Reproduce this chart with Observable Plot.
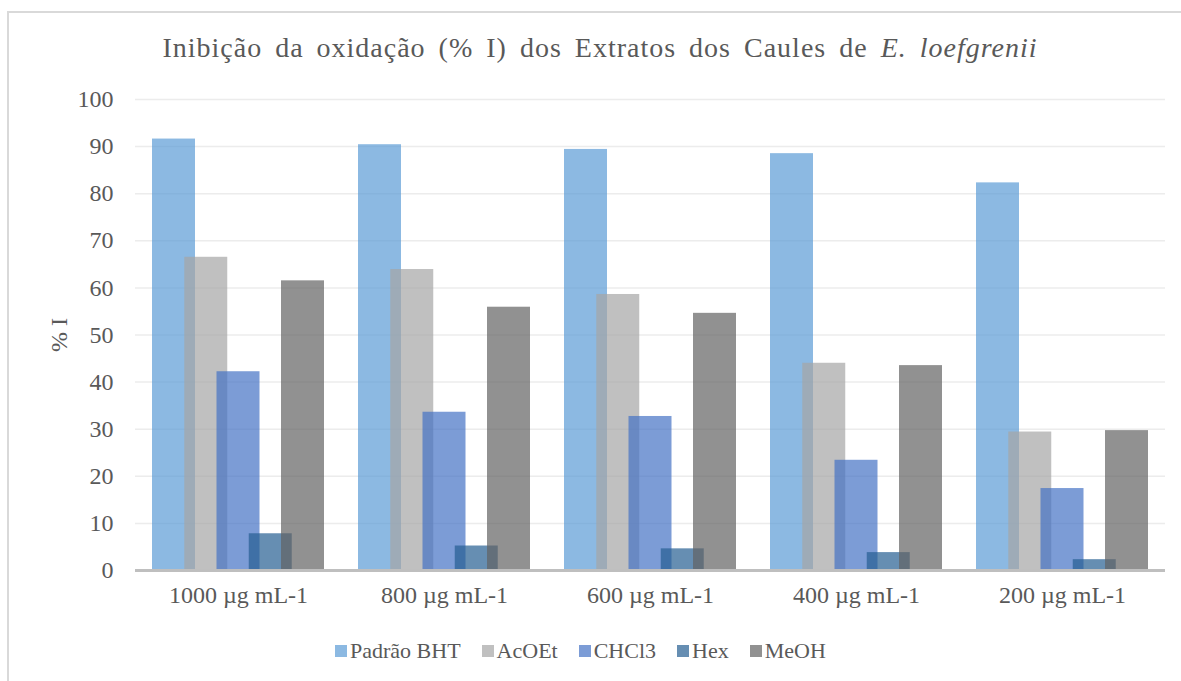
<!DOCTYPE html>
<html>
<head>
<meta charset="utf-8">
<script src="https://cdn.jsdelivr.net/npm/d3@7"></script>
<script src="https://cdn.jsdelivr.net/npm/@observablehq/plot@0.6"></script>
<style>
  html, body { margin: 0; padding: 0; background: #fff; width: 1181px; height: 681px; overflow: hidden; }
  #frame { position: absolute; left: 7px; top: 11px; width: 1300px; height: 800px; border-left: 2px solid #d9d9d9; border-top: 2px solid #d9d9d9; }
  #title { position: absolute; left: 0; width: 1200px; top: 34px; text-align: center; font-family: "Liberation Serif", serif; font-size: 28px; line-height: 28px; letter-spacing: 1px; word-spacing: 5px; color: #595959; white-space: nowrap; }
  #chart { position: absolute; left: 0; top: 70px; }
  #legend { position: absolute; left: 335px; top: 638px; display: flex; align-items: center; font-family: "Liberation Serif", serif; font-size: 22px; letter-spacing: 0px; color: #595959; white-space: nowrap; }
  .item { display: flex; align-items: center; margin-right: 21px; }
  .sw { width: 12px; height: 12px; margin-right: 3px; }
</style>
</head>
<body>
<div id="frame"></div>
<div id="title">Inibição da oxidação (% I) dos Extratos dos Caules de <i>E. loefgrenii</i></div>
<div id="chart"></div>
<div id="legend"></div>
<script>
const groups = ["1000 µg mL-1", "800 µg mL-1", "600 µg mL-1", "400 µg mL-1", "200 µg mL-1"];
const series = ["Padrão BHT", "AcOEt", "CHCl3", "Hex", "MeOH"];
const bht   = [91.6, 90.4, 89.4, 88.5, 82.3];
const acoet = [66.5, 63.9, 58.6, 44.0, 29.4];
const chcl3 = [42.2, 33.6, 32.7, 23.4, 17.4];
const hex   = [7.8, 5.2, 4.6, 3.8, 2.3];
const meoh  = [61.5, 55.9, 54.6, 43.5, 29.7];
const yTicks = [0, 10, 20, 30, 40, 50, 60, 70, 80, 90, 100];
const colors = ["#5B9BD5", "#A5A5A5", "#4472C4", "#255E91", "#636363"];

const values = [bht, acoet, chcl3, hex, meoh];
const data = series.map((s, i) => groups.map((g, j) => ({group: g, serie: s, value: values[i][j]})));

const W = 1181, mL = 135, mR = 16;
const band = (W - mL - mR) / groups.length;
const barW = 43, step = 32.25;

const barMarks = data.map((d, i) => {
  const o = (i - 2) * step;
  const base = (band - barW) / 2;
  return Plot.barY(d, {
    x: "group", y: "value",
    fill: colors[i], fillOpacity: 0.7,
    insetLeft: base + o, insetRight: base - o
  });
});

const chart = Plot.plot({
  width: W,
  height: 540,
  marginLeft: mL,
  marginRight: mR,
  marginTop: 29,
  marginBottom: 40,
  style: {fontFamily: "Liberation Serif, serif", color: "#595959", background: "transparent"},
  x: {type: "band", domain: groups, padding: 0},
  y: {domain: [0, 100]},
  marks: [
    Plot.gridY(yTicks, {stroke: "#ececec", strokeOpacity: 1, strokeWidth: 1.5}),
    ...barMarks,
    Plot.ruleY([0], {stroke: "#bfbfbf", strokeWidth: 3}),
    Plot.axisY(yTicks, {tickSize: 0, tickPadding: 22, fontSize: 24, label: "% I", labelAnchor: "center", labelArrow: "none", labelOffset: 86, style: "letter-spacing:0.5px"}),
    Plot.axisX({tickSize: 0, tickPadding: 15, fontSize: 24, label: null, style: "letter-spacing:2.6px; word-spacing:4px"})
  ]
});
document.getElementById("chart").appendChild(chart);

const legend = document.getElementById("legend");
series.forEach((s, i) => {
  const item = document.createElement("div");
  item.className = "item";
  const sw = document.createElement("div");
  sw.className = "sw";
  sw.style.background = colors[i];
  sw.style.opacity = 0.7;
  const t = document.createElement("span");
  t.textContent = s;
  item.appendChild(sw);
  item.appendChild(t);
  legend.appendChild(item);
});
</script>
</body>
</html>
